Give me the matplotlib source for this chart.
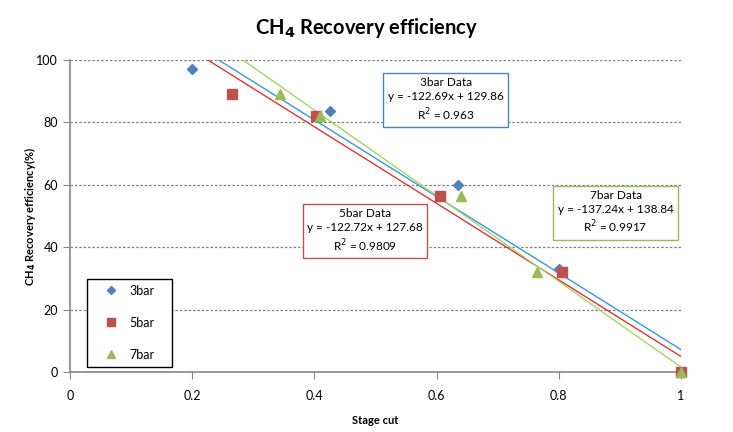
import numpy as np
import matplotlib
matplotlib.use('Agg')
import matplotlib.pyplot as plt
from matplotlib.lines import Line2D

plt.rcParams['font.family'] = ['Lato', 'DejaVu Sans']

# stage cut vs CH4 recovery efficiency (%)
x_3bar = [0.2, 0.426, 0.635, 0.8, 1.0]
y_3bar = [97, 83.5, 60, 33, 0]
x_5bar = [0.265, 0.403, 0.605, 0.805, 1.0]
y_5bar = [89, 82, 56.5, 32, 0]
x_7bar = [0.344, 0.409, 0.64, 0.765, 1.0]
y_7bar = [89, 82, 56.5, 32, 0]

# linear trendlines (slope, intercept, R^2) as shown on chart
fit_3bar = (-122.69, 129.86, '0.963')
fit_5bar = (-122.72, 127.68, '0.9809')
fit_7bar = (-137.24, 138.84, '0.9917')

series = [
    ('3bar', x_3bar, y_3bar, fit_3bar, 'D', '#4F81BD', '#3A97DC', (0.615, 0.872)),
    ('5bar', x_5bar, y_5bar, fit_5bar, 's', '#C0504D', '#DE3535', (0.483, 0.452)),
    ('7bar', x_7bar, y_7bar, fit_7bar, '^', '#9BBB59', '#A6D46A', (0.893, 0.511)),
]

fig = plt.figure(figsize=(7.33, 4.32), dpi=100)
ax = fig.add_axes([70/733, 1-372/432, 611/733, 312/432])

xx = np.linspace(0, 1, 200)
handles = []
for name, xs, ys, fit, mk, mcol, lcol, pos in series:
    ms = 5 if mk == 'D' else 6.5
    ax.plot(xx, fit[0]*xx + fit[1], color=lcol, lw=1.0, zorder=2)
    ax.plot(xs, ys, ls='None', marker=mk, color=mcol, ms=ms, zorder=3, clip_on=False)
    handles.append(Line2D([], [], ls='None', marker=mk, color=mcol, ms=ms*0.85, label=name))
    txt = '%s Data\ny = %.2fx + %.2f\nR$^2$ = %s' % (name, fit[0], fit[1], fit[2])
    ax.text(pos[0], pos[1], txt, transform=ax.transAxes, ha='center', va='center',
            fontsize=8.5, linespacing=1.3, zorder=5,
            bbox=dict(boxstyle='square,pad=0.38', fc='white', ec=mcol, lw=1.0))

ax.set_xlim(0, 1)
ax.set_ylim(0, 100)
ax.set_xticks([0, 0.2, 0.4, 0.6, 0.8, 1.0])
ax.set_xticklabels(['0', '0.2', '0.4', '0.6', '0.8', '1'])
ax.set_yticks(range(0, 101, 20))
ax.tick_params(labelsize=9, color='#868686', length=5, direction='out')
ax.tick_params(axis='x', pad=8)
for s in ['top', 'right']:
    ax.spines[s].set_visible(False)
for s in ['left', 'bottom']:
    ax.spines[s].set_color('#868686')
    ax.spines[s].set_linewidth(1.2)
for yv in range(20, 101, 20):
    ax.axhline(yv, color='#808080', lw=0.9, ls=(0, (2, 1.5)), zorder=1)

ax.set_xlabel('Stage cut', fontsize=8, fontweight='bold', labelpad=9)
ax.set_ylabel(r'CH$_\mathbf{4}$ Recovery efficiency(%)', fontsize=8, fontweight='bold', labelpad=-1)
fig.text(0.5, 0.935, r'CH$_\mathbf{4}$ Recovery efficiency', ha='center', va='center',
         fontsize=14.5, fontweight='bold')

leg = ax.legend(handles=handles, loc='lower left', mode='expand',
                bbox_to_anchor=(0.028, 0.016, 0.139, 0.279),
                fontsize=9, labelspacing=1.6, borderpad=0.5, handletextpad=0.1,
                fancybox=False, framealpha=1, edgecolor='black', handlelength=2.8,
                borderaxespad=0)
leg.get_frame().set_linewidth(1.0)

fig.savefig('out.png', dpi=100)
